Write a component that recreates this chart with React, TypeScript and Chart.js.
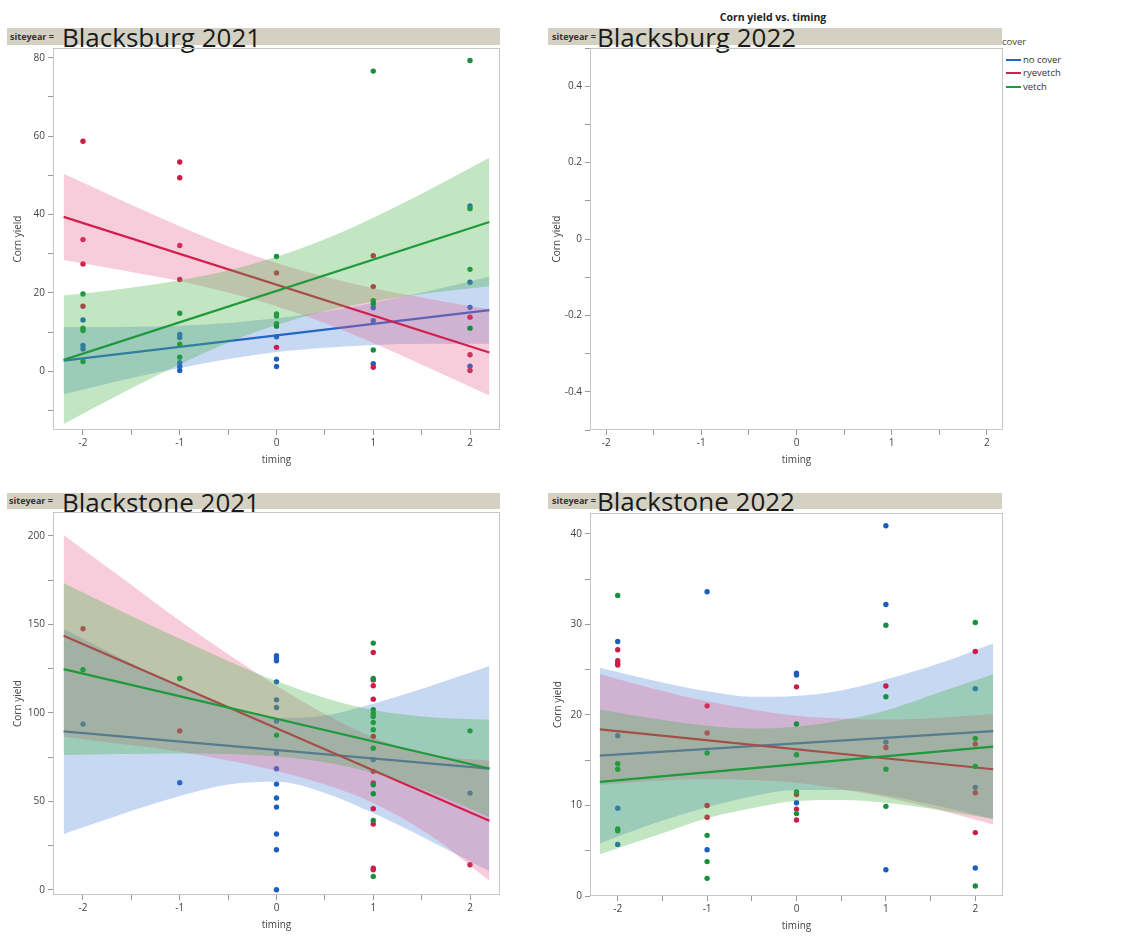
import React, { useEffect, useRef } from "react";
import { Chart, registerables } from "chart.js";
Chart.register(...registerables);

const FONT = "'Open Sans', 'Noto Sans', sans-serif";

// ---------- shared ----------
const COVERS = ["no cover", "ryevetch", "vetch"];
const LINE_COLORS = ["#2466c6", "#d21f4b", "#1e9a3b"];
const POINT_COLORS = ["#1c5ec0", "#cc1c48", "#17903d"];
const BAND_COLORS = ["rgba(70,125,215,0.30)", "rgba(230,90,135,0.30)", "rgba(70,175,70,0.33)"];
const BAND_X = [-2.2, -1.6, -1, -0.5, 0, 0.5, 1, 1.6, 2.2];
const FIT_X = [-2.2, 2.2];

type Pts = [number, number][];

// ---------- Blacksburg 2021 ----------
const bb21NoCover: Pts = [[-2, 13.1], [-2, 6.6], [-2, 5.7], [-1, 9.4], [-1, 8.6], [-1, 2.2], [-1, 1.2], [-1, 0.2], [0, 8.8], [0, 3.1], [0, 1.2], [1, 16.2], [1, 12.9], [1, 1.9], [2, 42.2], [2, 22.7], [2, 16.3], [2, 1.3]];
const bb21Rye: Pts = [[-2, 58.7], [-2, 33.6], [-2, 27.4], [-2, 16.6], [-1, 53.4], [-1, 49.4], [-1, 32.1], [-1, 23.4], [0, 25.1], [0, 6.1], [1, 29.5], [1, 21.6], [1, 1.0], [2, 13.8], [2, 4.2], [2, 0.2]];
const bb21Vetch: Pts = [[-2, 19.7], [-2, 11.0], [-2, 10.4], [-2, 2.5], [-1, 14.8], [-1, 6.9], [-1, 3.6], [0, 29.3], [0, 14.6], [0, 14.1], [0, 12.1], [0, 11.5], [1, 76.6], [1, 18.0], [1, 17.2], [1, 5.4], [2, 79.3], [2, 41.5], [2, 26.0], [2, 11.0]];
const bb21Fits = [[2.7, 15.6], [39.4, 4.8], [2.9, 38.1]];
const bb21Upper = [
  [11.3, 11.3, 11.6, 12.3, 13.5, 15.2, 17.5, 20.6, 24.2],
  [50.4, 43.6, 37.0, 31.9, 27.6, 24.1, 21.2, 18.4, 15.8],
  [19.3, 21.0, 23.2, 25.7, 29.2, 33.7, 39.2, 46.6, 54.5],
];
const bb21Lower = [
  [-5.9, -2.3, 0.8, 3.1, 4.9, 6.0, 6.7, 7.0, 7.0],
  [28.4, 25.8, 23.0, 20.1, 16.6, 12.3, 7.2, 0.6, -6.2],
  [-13.5, -5.6, 1.8, 7.3, 11.8, 15.3, 17.8, 20.0, 21.7],
];

// ---------- Blackstone 2021 ----------
const bs21NoCover: Pts = [[-2, 93.6], [-1, 60.5], [0, 132.2], [0, 130.9], [0, 129.4], [0, 117.5], [0, 107.3], [0, 103.0], [0, 95.3], [0, 77.2], [0, 68.4], [0, 59.7], [0, 51.8], [0, 46.7], [0, 31.5], [0, 22.6], [0, 0], [1, 73.5], [2, 54.6]];
const bs21Rye: Pts = [[-2, 147.5], [-1, 89.8], [1, 134.1], [1, 118.6], [1, 115.3], [1, 107.7], [1, 86.6], [1, 66.9], [1, 60.3], [1, 45.8], [1, 37.1], [1, 12.2], [1, 11.3], [2, 14.1]];
const bs21Vetch: Pts = [[-2, 124.3], [-1, 119.4], [0, 87.4], [1, 139.4], [1, 119.4], [1, 101.7], [1, 99.8], [1, 97.9], [1, 94.5], [1, 90.4], [1, 80.0], [1, 59.3], [1, 54.2], [1, 39.2], [1, 7.5], [2, 89.8]];
const bs21Fits = [[89.5, 68.4], [143.5, 39.0], [124.7, 68.5]];
const bs21Upper = [
  [147.5, 130.7, 114.7, 103.3, 97.0, 98.5, 105.1, 115.3, 126.4],
  [200.5, 176.3, 152.0, 133.1, 115.3, 99.4, 86.0, 76.3, 73.0],
  [173.3, 157.3, 141.8, 129.3, 117.9, 108.4, 101.6, 97.5, 96.0],
];
const bs21Lower = [
  [31.5, 42.7, 52.9, 59.5, 61.0, 54.7, 43.3, 27.3, 10.4],
  [86.5, 82.3, 78.0, 73.1, 67.3, 59.4, 49.0, 30.3, 5.0],
  [76.1, 76.7, 77.0, 76.7, 75.3, 72.0, 66.0, 54.9, 41.0],
];

// ---------- Blackstone 2022 ----------
const bs22NoCover: Pts = [[-2, 28.1], [-2, 17.7], [-2, 9.7], [-2, 5.7], [-1, 33.6], [-1, 5.1], [0, 24.6], [0, 24.4], [0, 10.3], [1, 40.9], [1, 32.2], [1, 17.0], [1, 2.9], [2, 22.9], [2, 12.0], [2, 3.1]];
const bs22Rye: Pts = [[-2, 27.2], [-2, 26.0], [-2, 25.7], [-2, 25.5], [-1, 21.0], [-1, 18.0], [-1, 10.0], [-1, 8.7], [0, 23.1], [0, 11.2], [0, 9.6], [0, 8.4], [1, 23.2], [1, 16.4], [2, 27.0], [2, 16.8], [2, 11.4], [2, 7.0]];
const bs22Vetch: Pts = [[-2, 33.2], [-2, 14.6], [-2, 14.0], [-2, 7.4], [-2, 7.2], [-1, 15.8], [-1, 6.7], [-1, 3.8], [-1, 1.95], [0, 19.0], [0, 15.6], [0, 11.5], [0, 9.1], [1, 29.9], [1, 22.0], [1, 14.0], [1, 9.9], [2, 30.2], [2, 17.4], [2, 14.3], [2, 1.1]];
const bs22Fits = [[15.5, 18.2], [18.4, 14.0], [12.6, 16.5]];
const bs22Upper = [
  [25.2, 23.8, 22.6, 22.0, 22.1, 22.7, 23.9, 25.7, 27.9],
  [24.5, 22.9, 21.5, 20.6, 19.9, 19.6, 19.5, 19.7, 20.1],
  [20.6, 19.6, 18.8, 18.5, 18.7, 19.4, 20.5, 22.5, 24.5],
];
const bs22Lower = [
  [5.8, 8.0, 9.8, 11.0, 11.7, 11.7, 11.1, 9.9, 8.5],
  [12.3, 12.7, 12.9, 12.8, 12.5, 11.8, 10.9, 9.5, 7.9],
  [4.6, 6.6, 8.6, 9.7, 10.5, 10.6, 10.3, 9.5, 8.5],
];

interface PanelSpec {
  left: number; top: number; width: number; height: number;
  yAxisWidth: number; yTitlePad: number;
  xMin: number; xMax: number;
  yMin: number; yMax: number; yStep: number; yMajor: number; yDec: number;
  points?: Pts[]; fits?: number[][]; uppers?: number[][]; lowers?: number[][];
}

const PANELS: PanelSpec[] = [
  { left: 0, top: 48, width: 500, height: 422, yAxisWidth: 53, yTitlePad: 12, xMin: -2.31, xMax: 2.31, yMin: -15, yMax: 82.5, yStep: 10, yMajor: 20, yDec: 0,
    points: [bb21NoCover, bb21Rye, bb21Vetch], fits: bb21Fits, uppers: bb21Upper, lowers: bb21Lower },
  { left: 540, top: 48, width: 463, height: 422, yAxisWidth: 50, yTitlePad: 11, xMin: -2.17, xMax: 2.17, yMin: -0.5, yMax: 0.5, yStep: 0.1, yMajor: 0.2, yDec: 1 },
  { left: 0, top: 512, width: 500, height: 423, yAxisWidth: 53, yTitlePad: 12, xMin: -2.31, xMax: 2.31, yMin: -3, yMax: 213.5, yStep: 25, yMajor: 50, yDec: 0,
    points: [bs21NoCover, bs21Rye, bs21Vetch], fits: bs21Fits, uppers: bs21Upper, lowers: bs21Lower },
  { left: 540, top: 513, width: 463, height: 423, yAxisWidth: 50, yTitlePad: 12, xMin: -2.31, xMax: 2.31, yMin: 0, yMax: 42.3, yStep: 5, yMajor: 10, yDec: 0,
    points: [bs22NoCover, bs22Rye, bs22Vetch], fits: bs22Fits, uppers: bs22Upper, lowers: bs22Lower },
];

const framePlugin = {
  id: "frame",
  afterDatasetsDraw(chart: any) {
    const { ctx, chartArea: a } = chart;
    ctx.save();
    ctx.strokeStyle = "#c6c6c6";
    ctx.lineWidth = 1;
    ctx.strokeRect(a.left + 0.5, a.top + 0.5, a.right - a.left - 1, a.bottom - a.top - 1);
    ctx.restore();
  },
};

function isMultiple(v: number, m: number) {
  const r = v / m;
  return Math.abs(r - Math.round(r)) < 1e-6;
}

// datasets are built in painting order (first = painted first / bottom)
function buildDatasets(p: PanelSpec) {
  const ds: any[] = [];
  for (let c = 0; c < 3; c++) {
    if (p.points) {
      ds.push({
        data: p.points[c].map(([x, y]) => ({ x, y })),
        showLine: false, pointRadius: 2.7, pointBorderWidth: 0,
        pointBackgroundColor: POINT_COLORS[c], borderColor: POINT_COLORS[c], backgroundColor: POINT_COLORS[c],
      });
    }
    if (p.uppers && p.lowers) {
      ds.push({
        data: BAND_X.map((x, i) => ({ x, y: p.lowers![c][i] })),
        borderColor: "transparent", borderWidth: 0, pointRadius: 0, fill: false, cubicInterpolationMode: "monotone",
      });
      ds.push({
        data: BAND_X.map((x, i) => ({ x, y: p.uppers![c][i] })),
        borderColor: "transparent", borderWidth: 0, pointRadius: 0, fill: "-1", backgroundColor: BAND_COLORS[c], cubicInterpolationMode: "monotone",
      });
    }
    if (p.fits) {
      ds.push({
        data: FIT_X.map((x, i) => ({ x, y: p.fits![c][i] })),
        borderColor: LINE_COLORS[c], borderWidth: 2.2, pointRadius: 0, fill: false,
      });
    }
  }
  const n = ds.length;
  ds.forEach((d, i) => { d.order = n - i; });
  return ds;
}

function Panel({ p }: { p: PanelSpec }) {
  const ref = useRef<HTMLCanvasElement>(null);
  useEffect(() => {
    if (!ref.current) return;
    const tickFont = { family: FONT, size: 10 };
    const chart = new Chart(ref.current, {
      type: "line",
      data: { datasets: buildDatasets(p) },
      plugins: [framePlugin],
      options: {
        animation: false,
        responsive: false,
        devicePixelRatio: 1,
        layout: { padding: 0, autoPadding: false },
        plugins: { legend: { display: false }, tooltip: { enabled: false }, title: { display: false } },
        scales: {
          x: {
            type: "linear", min: p.xMin, max: p.xMax,
            afterFit: (s: any) => { s.height = 40; s.paddingLeft = 0; s.paddingRight = 0; },
            ticks: {
              stepSize: 0.5, autoSkip: false, includeBounds: false, maxRotation: 0, padding: 2,
              color: "#444", font: tickFont,
              callback: (v: any) => (isMultiple(Number(v), 1) ? String(Math.round(Number(v))) : ""),
            },
            grid: { drawOnChartArea: false, drawTicks: true, tickLength: 5, tickColor: "#9a9a9a" },
            border: { display: false },
            title: { display: true, text: "timing", color: "#444", font: tickFont, padding: { top: 0, bottom: 4 } },
          },
          y: {
            type: "linear", min: p.yMin, max: p.yMax,
            afterFit: (s: any) => { s.width = p.yAxisWidth; s.paddingTop = 0; s.paddingBottom = 0; },
            ticks: {
              stepSize: p.yStep, autoSkip: false, includeBounds: false, padding: 3,
              color: "#444", font: tickFont,
              callback: (v: any) => {
                const n = Number(v);
                if (!isMultiple(n, p.yMajor)) return "";
                const r = Math.round(n / p.yMajor) * p.yMajor;
                if (Math.abs(r) < 1e-9) return "0";
                return r.toFixed(p.yDec);
              },
            },
            grid: { drawOnChartArea: false, drawTicks: true, tickLength: 5, tickColor: "#9a9a9a" },
            border: { display: false },
            title: { display: true, text: "Corn yield", color: "#444", font: tickFont, padding: { top: p.yTitlePad, bottom: 0 } },
          },
        },
      } as any,
    });
    return () => chart.destroy();
  }, [p]);
  return (
    <canvas
      ref={ref}
      width={p.width}
      height={p.height}
      style={{ position: "absolute", left: p.left, top: p.top, width: p.width, height: p.height, display: "block" }}
    />
  );
}

const HEADERS = [
  { barLeft: 7, barTop: 28, barWidth: 493, barHeight: 17, smallLeft: 10, bigLeft: 62, bigTop: 23.6, text: "Blacksburg 2021" },
  { barLeft: 548, barTop: 28, barWidth: 454, barHeight: 17, smallLeft: 552, bigLeft: 597, bigTop: 23.6, text: "Blacksburg 2022" },
  { barLeft: 7, barTop: 493, barWidth: 493, barHeight: 16, smallLeft: 9, bigLeft: 62, bigTop: 488.5, text: "Blackstone 2021" },
  { barLeft: 548, barTop: 493, barWidth: 454, barHeight: 16, smallLeft: 552, bigLeft: 597, bigTop: 487.8, text: "Blackstone 2022" },
];

export default function App() {
  return (
    <div style={{ position: "absolute", left: 0, top: 0, width: 1148, height: 936, background: "#fff", overflow: "hidden", fontFamily: FONT }}>
      {HEADERS.map((h, i) => (
        <React.Fragment key={i}>
          <div style={{ position: "absolute", left: h.barLeft, top: h.barTop, width: h.barWidth, height: h.barHeight, background: "#d5d1c2" }} />
          <div style={{ position: "absolute", left: h.smallLeft, top: h.barTop, height: h.barHeight, lineHeight: h.barHeight + "px", fontSize: 9, fontWeight: 700, color: "#333", whiteSpace: "nowrap" }}>
            siteyear =
          </div>
          <div style={{ position: "absolute", left: h.bigLeft, top: h.bigTop, fontSize: 26, lineHeight: "26px", color: "#1a1a1a", whiteSpace: "nowrap" }}>
            {h.text}
          </div>
        </React.Fragment>
      ))}
      <div style={{ position: "absolute", left: 673, top: 9, width: 200, textAlign: "center", fontSize: 10.5, fontWeight: 700, color: "#222", lineHeight: "16px" }}>
        Corn yield vs. timing
      </div>
      <div style={{ position: "absolute", left: 1002, top: 35, fontSize: 9.5, color: "#444", lineHeight: "14px" }}>cover</div>
      {COVERS.map((c, i) => (
        <React.Fragment key={c}>
          <div style={{ position: "absolute", left: 1006, top: [60, 73, 87][i] - 1, width: 15, height: 2, background: LINE_COLORS[i] }} />
          <div style={{ position: "absolute", left: 1023, top: [60, 73, 87][i] - 7, fontSize: 9.5, color: "#333", lineHeight: "14px", whiteSpace: "nowrap" }}>{c}</div>
        </React.Fragment>
      ))}
      {PANELS.map((p, i) => (
        <Panel key={i} p={p} />
      ))}
    </div>
  );
}
